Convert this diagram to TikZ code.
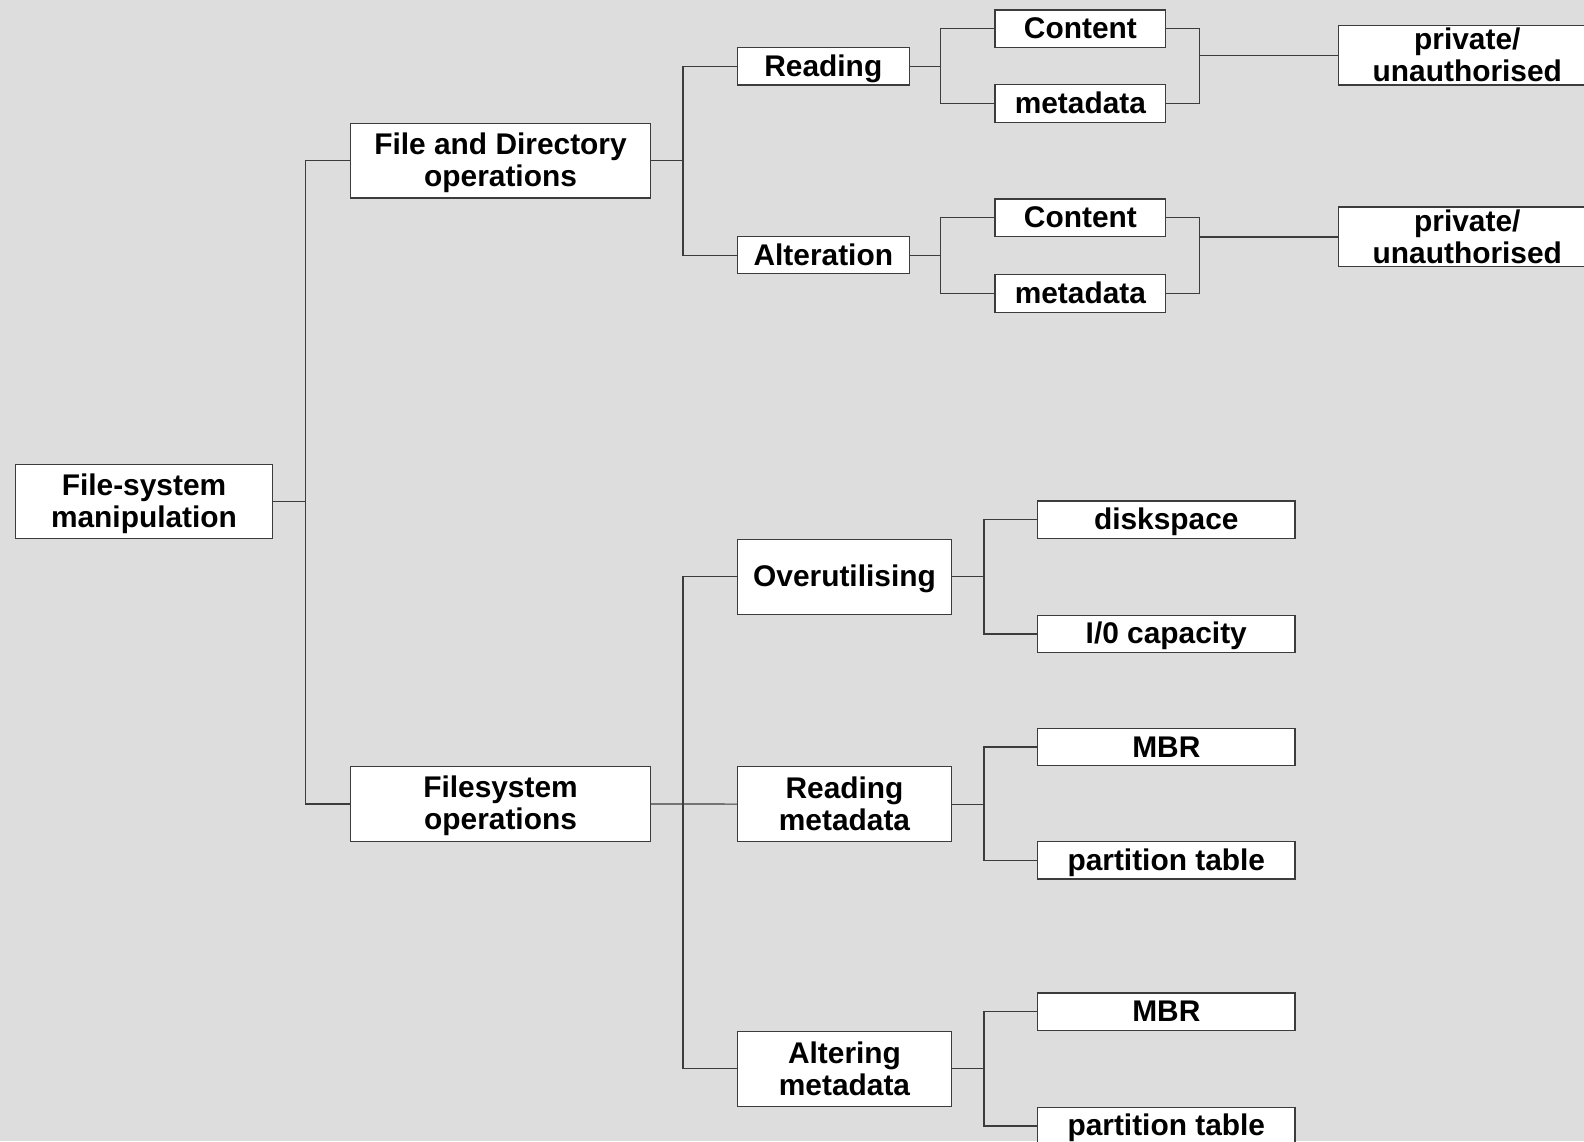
\documentclass[tikz,border=0pt]{standalone}
\usepackage{fontspec}
\setmainfont{Liberation Sans}
\definecolor{canvas}{RGB}{221,221,221}
\definecolor{edge}{RGB}{60,60,60}
\begin{document}
\begin{tikzpicture}[x=1bp,y=-1bp,
  box/.style={draw=edge, line width=1.3bp, fill=white, inner sep=0pt,
    font=\fontsize{30}{32}\selectfont\bfseries, align=center},
  one/.style={text height=25bp, text depth=5bp},
  two/.style={text depth=2bp},
  link/.style={draw=edge, line width=1.2bp}]
\useasboundingbox (0,0) rectangle (1584,1141);
\fill[canvas] (0,0) rectangle (1584,1141);
\clip (0,0) rectangle (1584,1141);

% bus columns
\coordinate (b1) at (305.1,0);
\coordinate (b2) at (682.9,0);
\coordinate (b3) at (940.5,0);
\coordinate (b4) at (1199.1,0);
\coordinate (b5) at (983.9,0);

% level 0 and 1
\node[box, two, minimum width=257.6bp, minimum height=73.7bp] (root) at (144,501.5) {File-system\\manipulation};
\node[box, two, minimum width=300bp, minimum height=74.8bp] (fdo) at (500.5,160.6) {File and Directory\\operations};
\node[box, two, minimum width=300bp, minimum height=74.8bp] (fso) at (500.5,804) {Filesystem\\operations};

% file and directory branch
\node[box, one, minimum width=171.7bp, minimum height=37.4bp] (rd) at (823.3,66.2) {Reading};
\node[box, one, minimum width=171.7bp, minimum height=37.4bp] (alt) at (823.3,255.1) {Alteration};
\node[box, one, minimum width=170.8bp, minimum height=37.4bp] (c1) at (1080.4,28.8) {Content};
\node[box, one, minimum width=170.8bp, minimum height=37.4bp] (m1) at (1080.4,103.5) {metadata};
\node[box, one, minimum width=170.8bp, minimum height=37.4bp] (c2) at (1080.4,217.7) {Content};
\node[box, one, minimum width=170.8bp, minimum height=37.4bp] (m2) at (1080.4,293.5) {metadata};
\node[box, minimum width=257.6bp, minimum height=59.6bp] (p1) at (1467.3,55.1) {private/\\unauthorised};
\node[box, minimum width=257.6bp, minimum height=59.6bp] (p2) at (1467.3,236.9) {private/\\unauthorised};

% filesystem branch
\node[box, one, minimum width=214.2bp, minimum height=74.7bp] (ov) at (844.5,576.8) {Overutilising};
\node[box, minimum width=214.2bp, minimum height=74.7bp] (rm) at (844.5,804.1) {Reading\\metadata};
\node[box, minimum width=214.2bp, minimum height=74.7bp] (am) at (844.5,1068.8) {Altering\\metadata};
\node[box, one, minimum width=257.6bp, minimum height=37.4bp] (ds) at (1166.3,519.7) {diskspace};
\node[box, one, minimum width=257.6bp, minimum height=37.4bp] (io) at (1166.3,633.9) {I/0 capacity};
\node[box, one, minimum width=257.6bp, minimum height=37.4bp] (mb1) at (1166.3,747) {MBR};
\node[box, one, minimum width=257.6bp, minimum height=37.4bp] (pt1) at (1166.3,860.2) {partition table};
\node[box, one, minimum width=257.6bp, minimum height=37.4bp] (mb2) at (1166.3,1011.7) {MBR};
\node[box, one, minimum width=257.6bp, minimum height=37.4bp] (pt2) at (1166.3,1125.9) {partition table};

% connectors
\draw[link] (root.east) -- (root.east -| b1);
\draw[link] (fdo.west) -| (b1 |- fso.west) -- (fso.west);

\draw[link] (fdo.east) -- (fdo.east -| b2);
\draw[link] (rd.west) -| (b2 |- alt.west) -- (alt.west);

\draw[link] (rd.east) -- (rd.east -| b3);
\draw[link] (c1.west) -| (b3 |- m1.west) -- (m1.west);
\draw[link] (alt.east) -- (alt.east -| b3);
\draw[link] (c2.west) -| (b3 |- m2.west) -- (m2.west);

\draw[link] (c1.east) -| (b4 |- m1.east) -- (m1.east);
\draw[link] (p1.west) -- (p1.west -| b4);
\draw[link] (c2.east) -| (b4 |- m2.east) -- (m2.east);
\draw[link] (p2.west) -- (p2.west -| b4);

\draw[link] (fso.east) -- (rm.west);
\draw[link] (ov.west) -| (b2 |- am.west) -- (am.west);

\draw[link] (ov.east) -- (ov.east -| b5);
\draw[link] (ds.west) -| (b5 |- io.west) -- (io.west);
\draw[link] (rm.east) -- (rm.east -| b5);
\draw[link] (mb1.west) -| (b5 |- pt1.west) -- (pt1.west);
\draw[link] (am.east) -- (am.east -| b5);
\draw[link] (mb2.west) -| (b5 |- pt2.west) -- (pt2.west);
\end{tikzpicture}
\end{document}
